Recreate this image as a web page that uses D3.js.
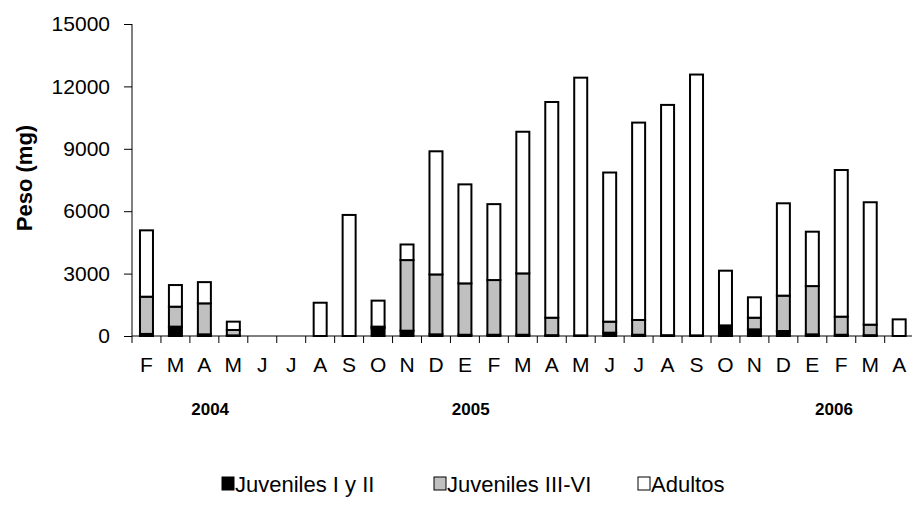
<!DOCTYPE html>
<html>
<head>
<meta charset="utf-8">
<script src="https://cdn.jsdelivr.net/npm/d3@7"></script>
<style>
  body { margin: 0; background: #fff; }
  svg { font-family: "Liberation Sans", Arial, sans-serif; }
</style>
</head>
<body>
<svg id="chart" width="912" height="518"></svg>
<script>
const months = ["F","M","A","M","J","J","A","S","O","N","D","E","F","M","A","M","J","J","A","S","O","N","D","E","F","M","A"];
const juvenilesIyII  = [100,450,80,30,0,0,0,0,380,255,80,60,60,60,40,0,160,60,0,0,510,320,240,80,60,40,0];
const juvenilesIIIVI = [1790,960,1490,260,0,0,0,0,70,3395,2880,2470,2630,2950,840,30,530,710,40,30,0,560,1700,2320,870,505,0];
const adultos        = [3190,1040,1020,400,0,0,1600,5820,1250,750,5920,4760,3650,6810,10370,12390,7170,9490,11070,12540,2630,980,4440,2615,7050,5885,800];
const yTicks = [0,3000,6000,9000,12000,15000];
const seriesNames = ["Juveniles I y II","Juveniles III-VI","Adultos"];
const seriesColors = ["#000000","#c0c0c0","#ffffff"];
const years = [{label:"2004", at:2.2},{label:"2005", at:11.2},{label:"2006", at:23.75}];

const svg = d3.select("#chart");
const x0 = 132, x1 = 132 + 27*28.95, yBottom = 336, yTop = 24;

const x = d3.scaleBand().domain(d3.range(months.length)).range([x0, x1]).paddingInner(0).paddingOuter(0);
const y = d3.scaleLinear().domain([0,15000]).range([yBottom, yTop]);

const rows = months.map((m,i) => ({i, j12: juvenilesIyII[i], j36: juvenilesIIIVI[i], ad: adultos[i]}));
const stack = d3.stack().keys(["j12","j36","ad"]);
const layers = stack(rows);

const barW = 13;
layers.forEach((layer, li) => {
  svg.append("g").selectAll("rect").data(layer.filter(d => d[1]-d[0] > 0)).join("rect")
    .attr("x", d => x(d.data.i) + x.bandwidth()/2 - barW/2)
    .attr("y", d => y(d[1]))
    .attr("width", barW)
    .attr("height", d => y(d[0]) - y(d[1]))
    .attr("fill", seriesColors[li])
    .attr("stroke", "#000")
    .attr("stroke-width", 2);
});

// Y axis
const yAxis = d3.axisLeft(y).tickValues(yTicks).tickSize(8).tickPadding(14).tickFormat(d3.format("d"));
const gy = svg.append("g").attr("transform", `translate(${x0},0)`).call(yAxis);
gy.attr("font-family", null).attr("font-size", null);
gy.selectAll("text").attr("font-size", 21).attr("fill", "#000");
gy.selectAll("line, path").attr("stroke", "#000");
gy.select(".domain").attr("d", `M0,${yTop}V${yBottom}`);

// X axis
const gx = svg.append("g").attr("transform", `translate(0,${yBottom})`);
gx.append("line").attr("x1", x0).attr("x2", x1).attr("y1", 0).attr("y2", 0).attr("stroke", "#000");
gx.selectAll("line.tick").data(d3.range(months.length + 1)).join("line")
  .attr("class","tick")
  .attr("x1", d => x0 + d * x.step()).attr("x2", d => x0 + d * x.step())
  .attr("y1", 0).attr("y2", 7).attr("stroke", "#000");
gx.selectAll("text").data(months).join("text")
  .attr("x", (d,i) => x(i) + x.bandwidth()/2)
  .attr("y", 36)
  .attr("text-anchor", "middle")
  .attr("font-size", 21)
  .text(d => d);

// Year labels
svg.selectAll("text.year").data(years).join("text")
  .attr("class","year")
  .attr("x", d => x0 + (d.at + 0.5) * x.step())
  .attr("y", 415)
  .attr("text-anchor","middle")
  .attr("font-size", 17)
  .attr("font-weight","bold")
  .text(d => d.label);

// Y axis title
svg.append("text")
  .attr("transform", "translate(32,178) rotate(-90)")
  .attr("text-anchor","middle")
  .attr("font-size", 22)
  .attr("font-weight","bold")
  .text("Peso (mg)");

// Legend
const legendX = [222, 434, 638];
const lg = svg.append("g");
seriesNames.forEach((name, i) => {
  lg.append("rect").attr("x", legendX[i]).attr("y", 477).attr("width", 12).attr("height", 13)
    .attr("fill", seriesColors[i]).attr("stroke", "#000").attr("stroke-width", 1);
  lg.append("text").attr("x", legendX[i] + 13).attr("y", 492).attr("font-size", 22).text(name);
});
</script>
</body>
</html>
